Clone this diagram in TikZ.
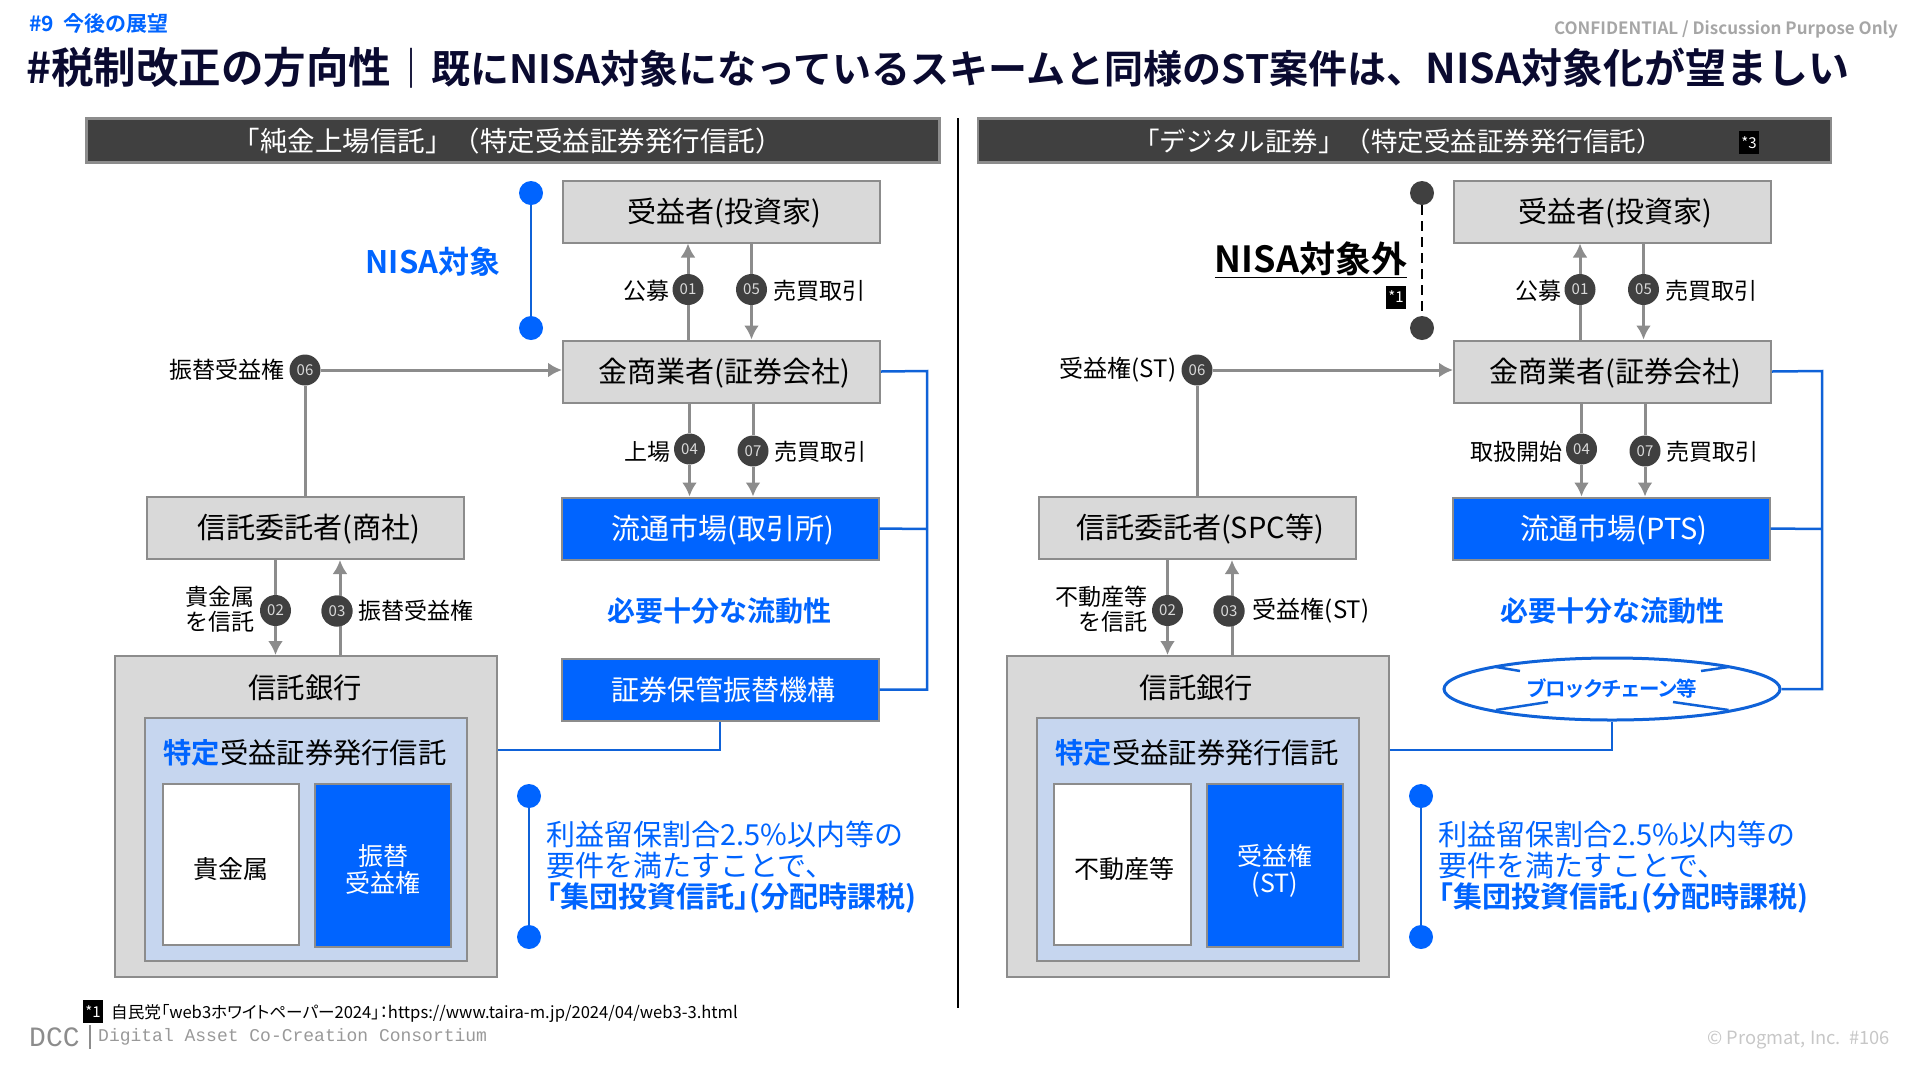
\documentclass[tikz,border=0pt]{standalone}
\usepackage{fontspec}
\setmainfont{Noto Sans CJK JP}[BoldFont={Noto Sans CJK JP Bold}]
\newfontfamily\tightfam{Noto Sans CJK JP}[BoldFont={Noto Sans CJK JP Bold},RawFeature=+palt]
\newfontfamily\monofam{Liberation Mono}
\usepackage{tikz}
\usetikzlibrary{arrows.meta,shapes.geometric,positioning}
\definecolor{dccblue}{HTML}{0064FF}
\definecolor{wireblue}{HTML}{0F62D8}
\definecolor{boxgray}{HTML}{D9D9D9}
\definecolor{edgegray}{HTML}{8C8C8C}
\definecolor{darkgray}{HTML}{404040}
\definecolor{paleblue}{HTML}{C6D6EF}
\definecolor{navy}{HTML}{0A0A30}
\newcommand{\fsz}[2]{\fontsize{#1}{#2}\selectfont}

\begin{document}
\begin{tikzpicture}[x=1pt, y=-1pt, >={Latex[length=14pt,width=15pt]},
    box/.style={rectangle, draw=edgegray, fill=boxgray, line width=2pt, minimum width=317pt, minimum height=62pt, inner sep=0pt, text height=24pt, text depth=3pt, font=\fsz{29}{30}, execute at begin node=\hspace{6pt}},
    bluebox/.style={box, fill=dccblue, text=white},
    head/.style={rectangle, draw=edgegray, fill=darkgray, line width=2.5pt, minimum width=853pt, minimum height=44pt, inner sep=0pt},
    headtext/.style={text=white, inner sep=0pt, text height=23pt, text depth=3pt},
    num/.style={circle, fill=darkgray, minimum size=31pt, inner sep=0pt, text=white!85!black, font=\fsz{15}{16}},
    lbl/.style={inner sep=0pt, align=center, font=\fsz{23}{25}},
    badge/.style={rectangle, fill=black, minimum width=20pt, minimum height=23pt, inner sep=0pt, text=white, font=\fsz{15}{16}},
    dotblue/.style={circle, fill=dccblue, minimum size=24pt, inner sep=0pt},
    dotdark/.style={circle, fill=darkgray, minimum size=24pt, inner sep=0pt},
    line/.style={draw=edgegray, line width=3pt},
    wire/.style={draw=wireblue, line width=2.5pt},
    blueword/.style={inner sep=0pt, text=dccblue, font=\fsz{28}{30}\bfseries},
    note/.style={inner sep=0pt, align=left, text=dccblue, font=\fsz{29}{31}},
    panel/.style={inner sep=0pt, font=\fsz{28.3}{30}},
    cellwhite/.style={rectangle, draw=edgegray, fill=white, line width=2pt, minimum width=136.5pt, minimum height=161pt},
    cellblue/.style={rectangle, draw=edgegray, fill=dccblue, line width=2pt, minimum width=136pt, minimum height=163pt},
    celltext/.style={inner sep=0pt, align=center, font=\fsz{25}{26}}]
    \useasboundingbox (0,0) rectangle (1920,1080);

    % page furniture
    \node [anchor=west, inner sep=0pt, text=dccblue, font=\fsz{21}{22}\bfseries] (section) at (29,23) {\#9\ \ 今後の展望};
    \node [anchor=east, inner sep=0pt, text=black!35, font=\fsz{17}{20}\bfseries] (conf) at (1898,30) {CONFIDENTIAL / Discussion Purpose Only};
    \node [anchor=west, inner sep=0pt, text=navy, font=\fsz{40}{41}\bfseries] (title) at (26,68) {{\fsz{42.5}{41}\#税制改正の方向性}｜{\fsz{39}{41}既にNISA対象になっているスキームと同様のST案件は、}{\fsz{41}{41}NISA対象化が望ましい}};
    \coordinate (divtop) at (958,118);
    \coordinate (divbot) at (958,1008);
    \draw [line width=2pt] (divtop) -- (divbot);

    % left side
    \node [head] (headl) at (513,140.5) {};
    \node [headtext, font=\fsz{27.5}{28}] (headtextl) at (507.5,141) {「純金上場信託」（特定受益証券発行信託）};
    \node [box] (invl) at (721.5,211.5) {受益者(投資家)};
    \node [box, below of=invl, node distance=160pt] (secl) {金商業者(証券会社)};
    \node [bluebox, below of=secl, node distance=157pt, xshift=-1.5pt] (mktl) {流通市場(取引所)};
    \node [bluebox, below of=mktl, node distance=161pt, font=\fsz{28}{30}] (cstl) {証券保管振替機構};
    \node [box] (setl) at (305.5,528) {信託委託者(商社)};
    \node [box, minimum width=382pt, minimum height=321pt] (bankl) at (306,816.5) {};
    \node [panel] (banktextl) at (305,688) {信託銀行};
    \node [rectangle, draw=edgegray, fill=paleblue, line width=2pt, minimum width=322pt, minimum height=243pt] (trustl) at (306,839.5) {};
    \node [panel] (trusttextl) at (305,753) {\textcolor{dccblue}{\bfseries 特定}受益証券発行信託};
    \node [cellwhite] (assetl) at (231,864.5) {};
    \node [celltext] (assettextl) at (231,869) {貴金属};
    \node [cellblue] (rightl) at (383,865.5) {};
    \node [celltext, text=white, font=\fsz{25}{27}] (righttextl) at (383,869) {振替\\受益権};

    \node [num] (n01l) at (688,289.5) {01};
    \node [num] (n05l) at (751.5,289.5) {05};
    \node [num] (n04l) at (689.5,449) {04};
    \node [num] (n07l) at (753,451) {07};
    \node [num] (n06l) at (305,370) {06};
    \node [num] (n02l) at (275.5,610.5) {02};
    \node [num] (n03l) at (337,611) {03};

    \node [lbl, left=3pt of n01l, yshift=-1pt] {公募};
    \node [lbl, right=6pt of n05l, yshift=-1pt] {売買取引};
    \node [lbl, left=3pt of n04l, yshift=-3pt] {上場};
    \node [lbl, right=6pt of n07l, yshift=-1pt] {売買取引};
    \node [lbl, left=5pt of n06l] {振替受益権};
    \node [lbl, left=5pt of n02l, align=right, yshift=1pt] {貴金属\\を信託};
    \node [lbl, right=6pt of n03l] {振替受益権};

    \draw [line, ->] (n01l) -- (invl.south -| n01l);
    \draw [line] (n01l) -- (secl.north -| n01l);
    \draw [line] (n05l) -- (invl.south -| n05l);
    \draw [line, ->] (n05l) -- (secl.north -| n05l);
    \draw [line] (n04l) -- (secl.south -| n04l);
    \draw [line, ->] (n04l) -- (mktl.north -| n04l);
    \draw [line] (n07l) -- (secl.south -| n07l);
    \draw [line, ->] (n07l) -- (mktl.north -| n07l);
    \draw [line, ->] (n06l) -- (secl.west |- n06l);
    \draw [line] (n06l) -- (setl.north -| n06l);
    \draw [line] (n02l) -- (setl.south -| n02l);
    \draw [line, ->] (n02l) -- (bankl.north -| n02l);
    \draw [line, ->] ([xshift=3pt]n03l.center) -- ([xshift=3pt]setl.south -| n03l);
    \draw [line] ([xshift=3pt]n03l.center) -- ([xshift=3pt]bankl.north -| n03l);
    \node [num] at (n03l) {03};

    \coordinate (busl) at (927,371);
    \draw [wire] (secl.east) -- (busl) -- (busl |- cstl) -- (cstl.east);
    \draw [wire] (mktl.east) -- (busl |- 0,529);
    \draw [wire] (bankl.east |- 0,750) -- (cstl.south |- 0,750) -- (cstl.south);

    \node [dotblue] (topl) at (531,193) {};
    \node [dotblue] (botl) at (531,328) {};
    \draw [wire] (topl) -- (botl);
    \node [blueword, font=\fsz{31}{32}\bfseries] (nisal) at (433,262) {NISA対象};
    \node [blueword] (liql) at (719.5,610.5) {必要十分な流動性};
    \node [dotblue] (notetopl) at (529,796) {};
    \node [dotblue] (notebotl) at (529,937) {};
    \draw [wire] (notetopl) -- (notebotl);
    \node [note, anchor=west] (notel) at (546,867.5) {利益留保割合2.5\%以内等の\\要件を満たすことで、\\{\tightfam\bfseries 「集団投資信託」(分配時課税)}};

    % right side
    \node [head] (headr) at (1404.5,140.5) {};
    \node [headtext, font=\fsz{26.5}{28}] (headtextr) at (1398,141) {「デジタル証券」（特定受益証券発行信託）};
    \node [badge] (fn3) at (1749,142.5) {*3};
    \node [box] (invr) at (1612.5,211.5) {受益者(投資家)};
    \node [box, below of=invr, node distance=160pt] (secr) {金商業者(証券会社)};
    \node [bluebox, below of=secr, node distance=157pt, xshift=-1.5pt] (mktr) {流通市場(PTS)};
    \node [ellipse, draw=wireblue, fill=white, line width=3pt, minimum width=336pt, minimum height=62pt, inner sep=0pt, text=dccblue, font=\tightfam\fsz{20.5}{23}\bfseries] (cstr) at (1612,689) {ブロックチェーン等};
    \node [box] (setr) at (1197,528) {信託委託者(SPC等)};
    \node [box, minimum width=382pt, minimum height=321pt] (bankr) at (1197.5,816.5) {};
    \node [panel] (banktextr) at (1196.5,688) {信託銀行};
    \node [rectangle, draw=edgegray, fill=paleblue, line width=2pt, minimum width=322pt, minimum height=243pt] (trustr) at (1197.5,839.5) {};
    \node [panel] (trusttextr) at (1197,753) {\textcolor{dccblue}{\bfseries 特定}受益証券発行信託};
    \node [cellwhite] (assetr) at (1122.5,864.5) {};
    \node [celltext] (assettextr) at (1124,869) {不動産等};
    \node [cellblue] (rightr) at (1275,865.5) {};
    \node [celltext, text=white, font=\fsz{25}{27}] (righttextr) at (1275,871) {受益権\\(ST)};

    \coordinate (rimal) at (1496,667);
    \coordinate (rimbl) at (1520,671);
    \coordinate (rimar) at (1728.5,667);
    \coordinate (rimbr) at (1701,671);
    \coordinate (rimcl) at (1496,710);
    \coordinate (rimdl) at (1548,702);
    \coordinate (rimcr) at (1728.5,710);
    \coordinate (rimdr) at (1673,702);
    \draw [wire] (rimal) -- (rimbl);
    \draw [wire] (rimar) -- (rimbr);
    \draw [wire] (rimcl) -- (rimdl);
    \draw [wire] (rimcr) -- (rimdr);

    \node [num] (n01r) at (1580,289.5) {01};
    \node [num] (n05r) at (1643.5,289.5) {05};
    \node [num] (n04r) at (1581.5,449) {04};
    \node [num] (n07r) at (1645,451) {07};
    \node [num] (n06r) at (1197,370) {06};
    \node [num] (n02r) at (1167.5,610.5) {02};
    \node [num] (n03r) at (1229,611) {03};

    \node [lbl, left=3pt of n01r, yshift=-1pt] {公募};
    \node [lbl, right=6pt of n05r, yshift=-1pt] {売買取引};
    \node [lbl, left=3pt of n04r, yshift=-3pt] {取扱開始};
    \node [lbl, right=6pt of n07r, yshift=-1pt] {売買取引};
    \node [lbl, left=5pt of n06r, font=\fsz{24}{25}] {受益権(ST)};
    \node [lbl, left=4pt of n02r, align=right, yshift=1pt] {不動産等\\を信託};
    \node [lbl, right=8pt of n03r, font=\fsz{24}{25}] {受益権(ST)};

    \draw [line, ->] (n01r) -- (invr.south -| n01r);
    \draw [line] (n01r) -- (secr.north -| n01r);
    \draw [line] (n05r) -- (invr.south -| n05r);
    \draw [line, ->] (n05r) -- (secr.north -| n05r);
    \draw [line] (n04r) -- (secr.south -| n04r);
    \draw [line, ->] (n04r) -- (mktr.north -| n04r);
    \draw [line] (n07r) -- (secr.south -| n07r);
    \draw [line, ->] (n07r) -- (mktr.north -| n07r);
    \draw [line, ->] (n06r) -- (secr.west |- n06r);
    \draw [line] (n06r) -- (setr.north -| n06r);
    \draw [line] (n02r) -- (setr.south -| n02r);
    \draw [line, ->] (n02r) -- (bankr.north -| n02r);
    \draw [line, ->] ([xshift=3pt]n03r.center) -- ([xshift=3pt]setr.south -| n03r);
    \draw [line] ([xshift=3pt]n03r.center) -- ([xshift=3pt]bankr.north -| n03r);
    \node [num] at (n03r) {03};

    \coordinate (busr) at (1822,371);
    \draw [wire] (secr.east) -- (busr) -- (busr |- cstr) -- (cstr.east);
    \draw [wire] (mktr.east) -- (busr |- 0,529);
    \draw [wire] (bankr.east |- 0,750) -- (cstr.south |- 0,750) -- (cstr.south);

    \node [dotdark] (topr) at (1422,193) {};
    \node [dotdark] (botr) at (1422,328) {};
    \draw [line width=2.5pt, dash pattern=on 10pt off 6pt] (topr) -- (botr);
    \node [inner sep=0pt, font=\fsz{36}{38}\bfseries] (nisar) at (1311,260) {\underline{NISA対象外}};
    \node [badge] (fn1) at (1396,297) {*1};
    \node [blueword] (liqr) at (1612,610.5) {必要十分な流動性};
    \node [dotblue] (notetopr) at (1421,796) {};
    \node [dotblue] (notebotr) at (1421,937) {};
    \draw [wire] (notetopr) -- (notebotr);
    \node [note, anchor=west] (noter) at (1438.5,867.5) {利益留保割合2.5\%以内等の\\要件を満たすことで、\\{\tightfam\bfseries 「集団投資信託」(分配時課税)}};

    % footer
    \node [badge] (fnkey) at (93,1011.5) {*1};
    \node [anchor=west, inner sep=0pt, font=\tightfam\fsz{16.6}{18}] (source) at (111,1013) {自民党「web3ホワイトペーパー2024」：https://www.taira-m.jp/2024/04/web3-3.html};
    \node [anchor=west, inner sep=0pt, text=black!45, font=\monofam\fsz{28}{30}] (dcc) at (29,1037) {DCC};
    \coordinate (dcctop) at (90,1025);
    \coordinate (dccbot) at (90,1049);
    \draw [black!45, line width=1.5pt] (dcctop) -- (dccbot);
    \node [anchor=west, inner sep=0pt, text=black!40, font=\monofam\fsz{18}{20}] (consort) at (98,1037) {Digital Asset Co-Creation Consortium};
    \node [anchor=east, inner sep=0pt, text=black!22, font=\fsz{18.3}{20}] (copy) at (1890,1040) {© Progmat, Inc.\ \ \#106};
\end{tikzpicture}
\end{document}
